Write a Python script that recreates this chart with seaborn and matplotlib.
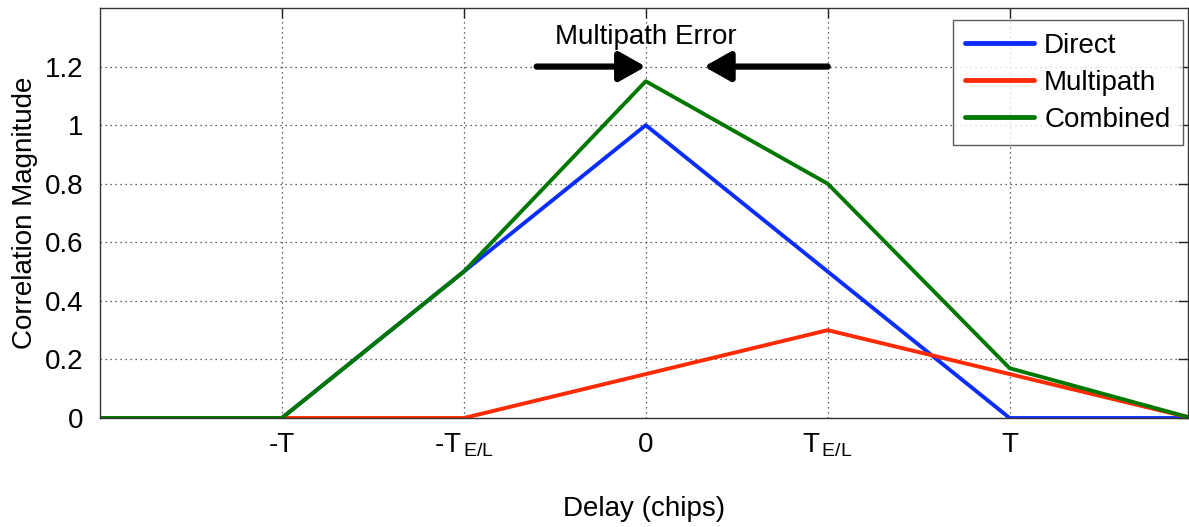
import matplotlib
matplotlib.use("Agg")
import matplotlib.pyplot as plt
import numpy as np
import pandas as pd
import seaborn as sns

# Delay axis (in units where T = 1, T_E/L = 0.5) and correlation magnitudes
delay = [-1.5, -1.0, -0.5, 0.0, 0.5, 1.0, 1.5]
direct = [0.0, 0.0, 0.5, 1.0, 0.5, 0.0, 0.0]
multipath = [0.0, 0.0, 0.0, 0.15, 0.3, 0.15, 0.0]
combined = [0.0, 0.0, 0.5, 1.15, 0.8, 0.17, 0.0]

series_names = ["Direct", "Multipath", "Combined"]
series_colors = ["#0a2dff", "#ff2a00", "#007800"]

tick_positions = [-1.0, -0.5, 0.0, 0.5, 1.0]
tick_labels = ["-T", r"-T$_{\,\mathrm{E/L}}$", "0", r"T$_{\,\mathrm{E/L}}$", "T"]
ytick_values = [0, 0.2, 0.4, 0.6, 0.8, 1.0, 1.2]
ytick_labels = ["0", "0.2", "0.4", "0.6", "0.8", "1", "1.2"]

sns.set_style("white")
plt.rcParams["font.family"] = ["Liberation Sans", "DejaVu Sans"]
plt.rcParams["mathtext.fontset"] = "custom"
plt.rcParams["mathtext.rm"] = "Liberation Sans"
plt.rcParams["mathtext.it"] = "Liberation Sans:italic"
plt.rcParams["text.color"] = "black"
plt.rcParams["axes.labelcolor"] = "black"

FS = 20

df = pd.DataFrame({
    "Delay": delay * 3,
    "Magnitude": direct + multipath + combined,
    "Series": sum([[n] * len(delay) for n in series_names], []),
})

fig = plt.figure(figsize=(11.89, 5.27), dpi=100)
ax = fig.add_axes([0.0841, 0.2068, 0.9150, 0.7780])

sns.lineplot(data=df, x="Delay", y="Magnitude", hue="Series",
             hue_order=series_names, palette=series_colors,
             linewidth=2.8, ax=ax, legend=True)

ax.set_xlim(-1.5, 1.49)
ax.set_ylim(0, 1.4)
ax.set_xticks(tick_positions)
ax.set_xticklabels(tick_labels, fontsize=FS)
ax.set_yticks(ytick_values)
ax.set_yticklabels(ytick_labels, fontsize=FS)
ax.tick_params(direction="in", length=7, width=1, top=True, right=True,
               colors="#222222", labelcolor="black", pad=12)
ax.tick_params(axis="x", pad=10)

ax.grid(True, linestyle=(0, (1, 3)), color="#333333", linewidth=0.9)
for s in ax.spines.values():
    s.set_color("#333333")
    s.set_linewidth(1.0)

ax.set_xlabel("Delay (chips)", fontsize=FS, labelpad=26, color="black")
ax.set_ylabel("Correlation Magnitude", fontsize=FS, labelpad=5, color="black")

# Arrows marking the multipath error around the peak
arrow_props = dict(arrowstyle="-|>,head_length=1.6,head_width=0.9",
                   color="black", lw=4.5, shrinkA=0, shrinkB=0)
ax.annotate("", xy=(0.0, 1.2), xytext=(-0.30, 1.2), arrowprops=arrow_props)
ax.annotate("", xy=(0.16, 1.2), xytext=(0.50, 1.2), arrowprops=arrow_props)
ax.text(0.0, 1.30, "Multipath Error", ha="center", va="center", fontsize=FS,
        color="black")

leg = ax.legend(loc="upper right", fontsize=FS, frameon=True, fancybox=False,
                edgecolor="#333333", handlelength=2.5, handletextpad=0.35,
                borderpad=0.45, labelspacing=0.4, borderaxespad=0,
                bbox_to_anchor=(0.9954, 0.9707))
leg.get_frame().set_linewidth(1.0)
for text in leg.get_texts():
    text.set_color("black")
for line in leg.get_lines():
    line.set_linewidth(3.5)

fig.savefig("out.png", dpi=100)
